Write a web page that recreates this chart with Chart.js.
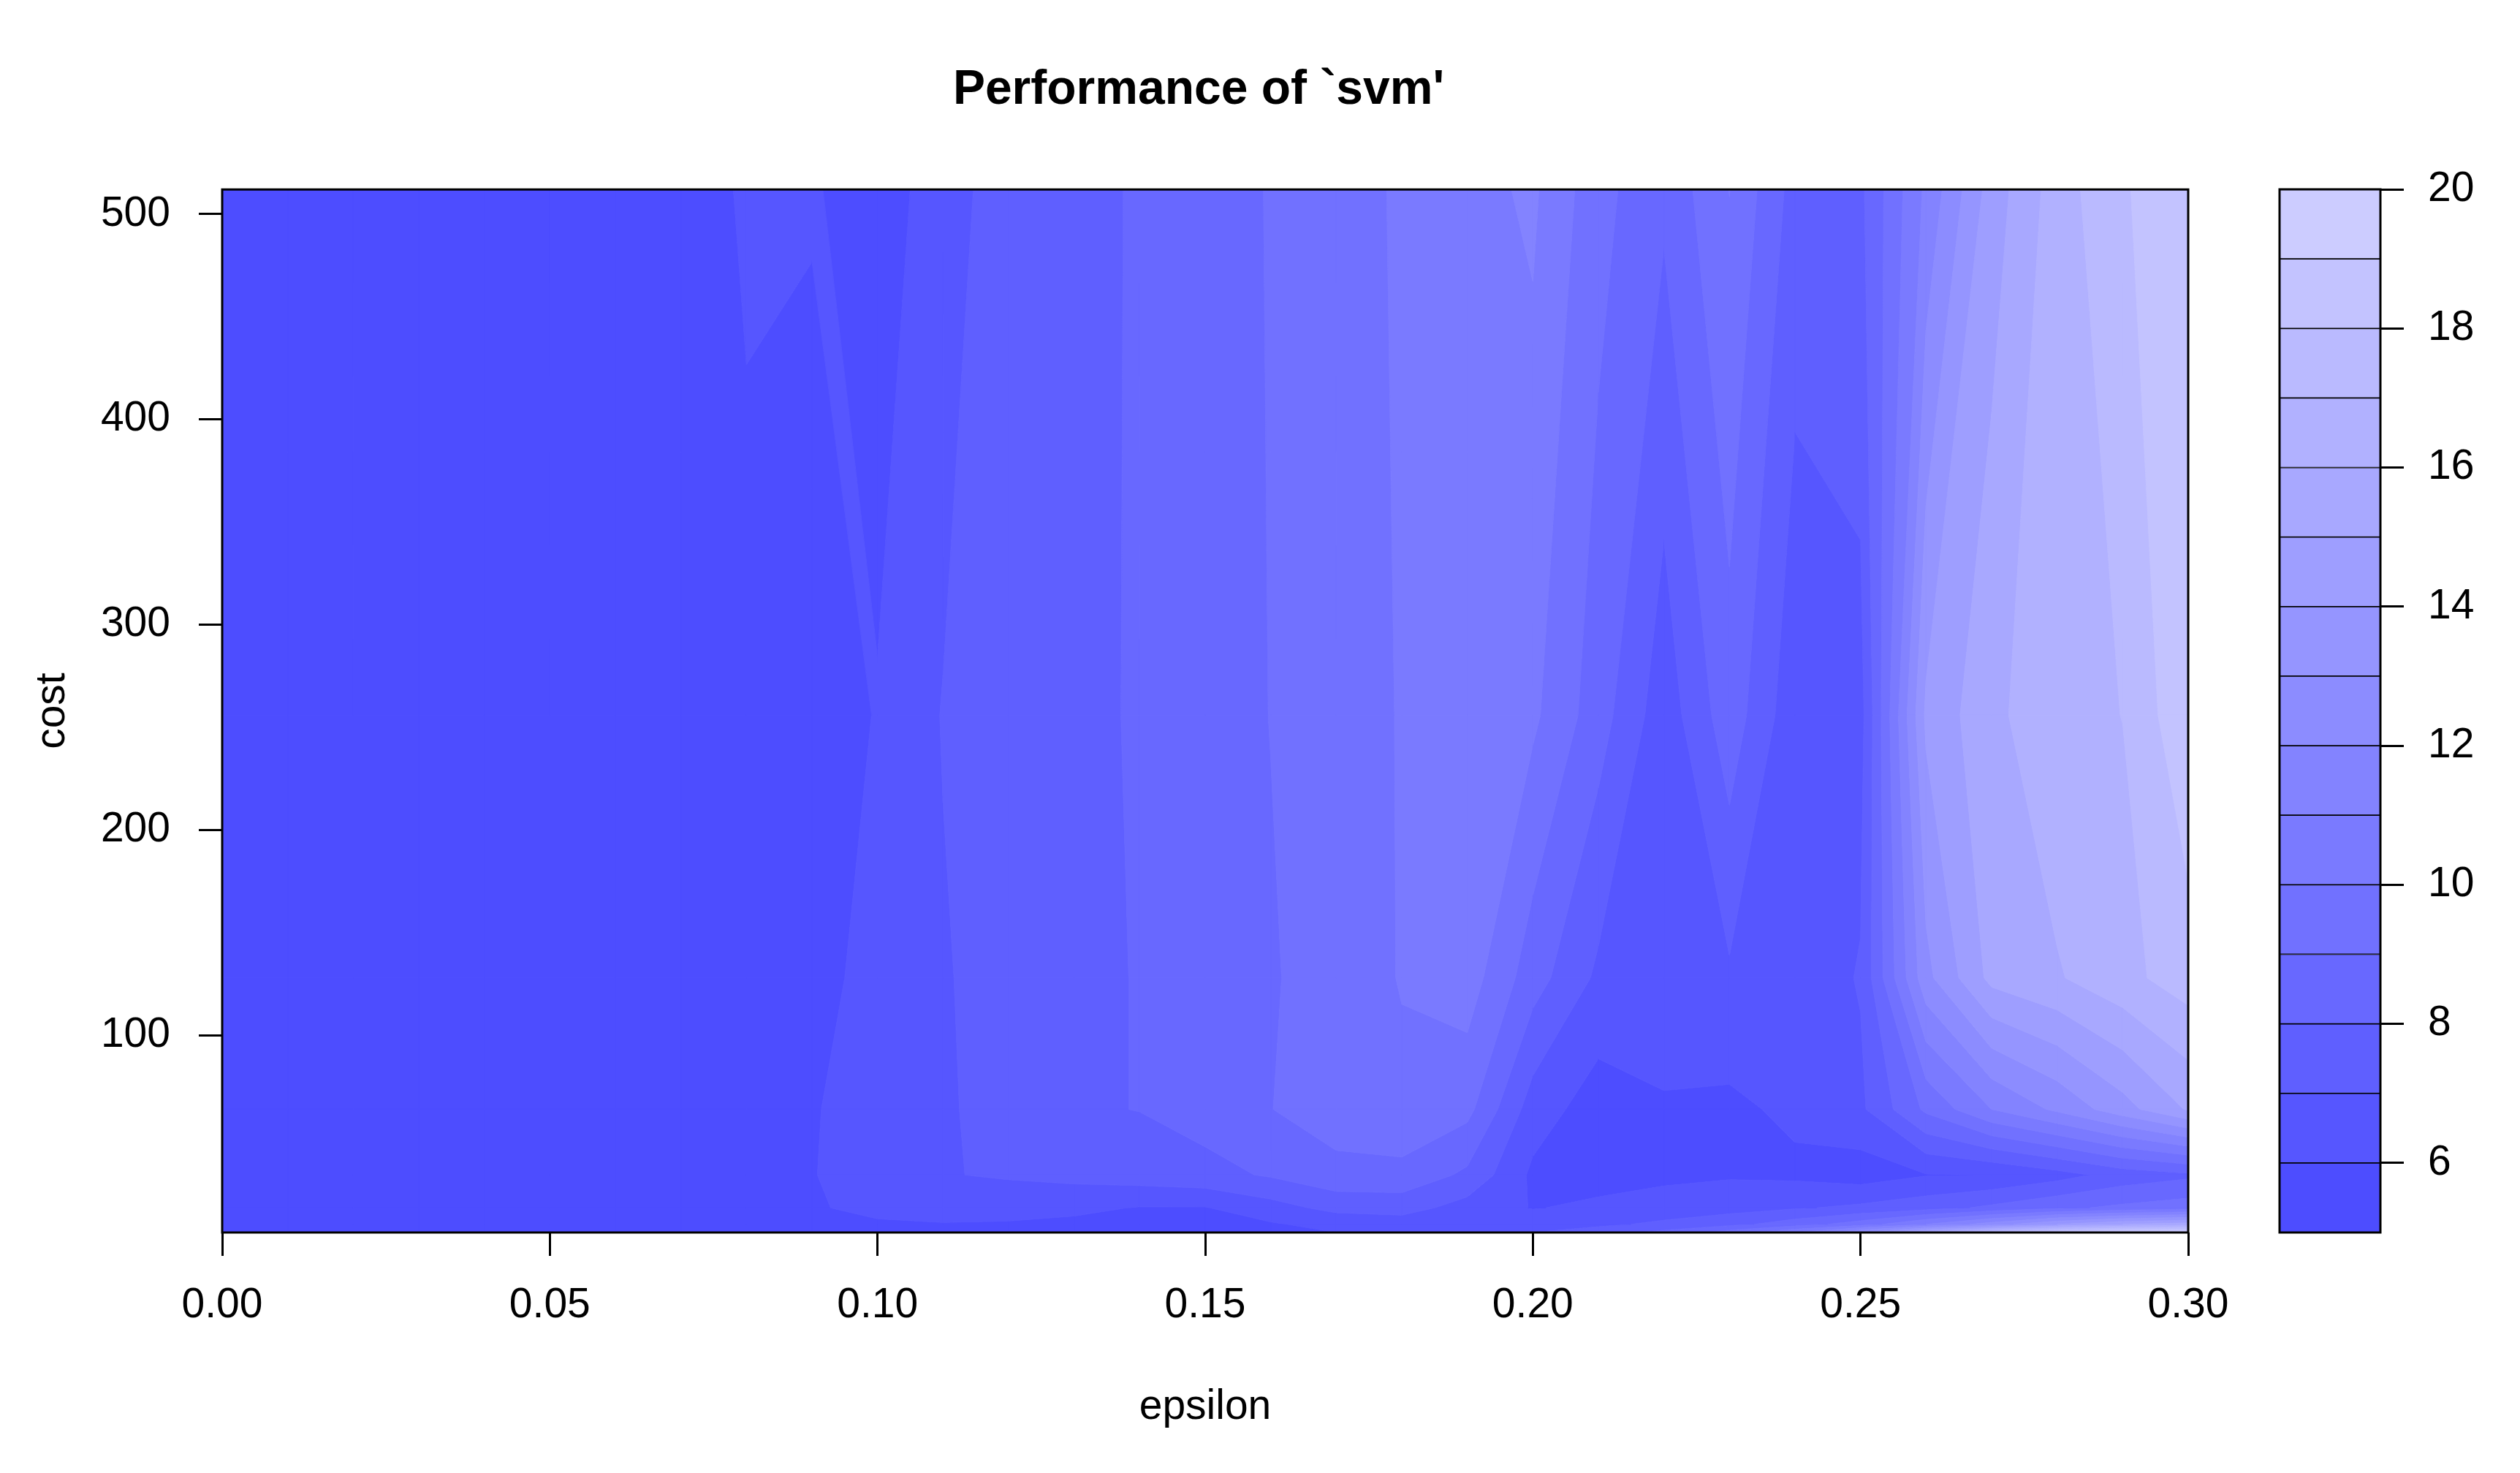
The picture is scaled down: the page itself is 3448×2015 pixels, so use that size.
<!DOCTYPE html>
<html><head><meta charset="utf-8">
<script src="https://cdn.jsdelivr.net/npm/chart.js@4.4.1/dist/chart.umd.min.js"></script>
<style>
html,body{margin:0;padding:0;background:#fff;overflow:hidden;width:3448px;height:2015px;}
#main{position:absolute;left:0;top:0;}
#bar{position:absolute;left:3000px;top:0;}
</style></head><body>
<canvas id="main" width="3280" height="2015" style="width:3280px;height:2015px"></canvas>
<canvas id="bar" width="448" height="2015" style="width:448px;height:2015px"></canvas>
<script>
// ---------- data ----------
const epsilon = [0.00,0.01,0.02,0.03,0.04,0.05,0.06,0.07,0.08,0.09,0.10,0.11,0.12,0.13,0.14,0.15,
                 0.16,0.17,0.18,0.19,0.20,0.21,0.22,0.23,0.24,0.25,0.26,0.27,0.28,0.29,0.30];
const cost = [4, 8, 16, 32, 64, 128, 256, 512];

const perfCost4   = [5.45,5.43,5.41,5.43,5.42,5.45,5.47,5.50,5.52,5.50,5.60,5.70,5.60,5.60,5.50,5.50,5.70,6.00,6.10,6.10,7.00,7.50,8.30,9.50,11.00,13.00,15.50,17.50,18.80,19.50,19.80];
const perfCost8   = [5.46,5.43,5.42,5.44,5.43,5.46,5.48,5.52,5.55,5.70,5.90,5.95,5.90,5.80,5.60,5.60,5.90,6.30,6.50,6.20,6.50,6.80,7.20,7.70,8.50,9.50,11.00,12.50,14.00,15.00,15.50];
const perfCost16  = [5.47,5.44,5.42,5.45,5.44,5.47,5.50,5.54,5.58,5.92,6.20,6.40,6.40,6.20,5.95,5.95,6.60,7.30,7.40,6.60,5.95,6.20,6.40,6.60,6.90,7.20,7.60,8.20,8.80,9.20,9.50];
const perfCost32  = [5.48,5.44,5.43,5.46,5.44,5.48,5.51,5.55,5.60,5.95,6.55,6.95,7.10,7.30,7.50,7.70,8.10,8.70,8.70,7.80,5.80,5.60,5.80,5.90,5.80,5.50,5.95,6.02,6.60,7.40,7.80];
const perfCost64  = [5.49,5.45,5.43,5.46,5.45,5.49,5.52,5.56,5.60,5.90,6.60,6.90,7.30,7.90,8.02,8.40,8.98,9.50,9.80,9.30,6.50,5.50,5.95,5.80,6.20,6.80,9.20,11.00,12.20,13.60,15.10];
const perfCost128 = [5.49,5.45,5.43,5.47,5.45,5.50,5.53,5.58,5.62,5.70,6.30,6.90,7.50,7.90,8.02,8.40,8.90,9.50,10.05,10.50,8.45,6.80,6.30,6.85,6.40,7.07,12.70,15.30,15.90,16.70,17.50];
const perfCost256 = [5.50,5.46,5.44,5.48,5.46,5.52,5.56,5.62,5.80,5.50,6.05,7.05,7.50,7.90,8.04,8.50,9.02,9.60,10.05,10.30,10.20,8.46,6.40,8.60,6.30,6.60,14.20,15.74,16.74,17.01,18.84];
const perfCost512 = [5.52,5.48,5.45,5.50,5.47,5.55,5.58,5.60,6.10,6.08,5.60,6.40,7.70,7.85,8.05,8.60,9.05,9.90,10.03,10.65,11.17,9.34,8.20,10.02,7.60,7.80,11.20,14.45,16.50,17.90,18.70];
const perfRows = [perfCost4, perfCost8, perfCost16, perfCost32, perfCost64, perfCost128, perfCost256, perfCost512];

const levels = [5,6,7,8,9,10,11,12,13,14,15,16,17,18,19,20];
const xTickValues = [0.00,0.05,0.10,0.15,0.20,0.25,0.30];
const yTickValues = [100,200,300,400,500];
const barTickValues = [6,8,10,12,14,16,18,20];

// hsv(h=2/3, s from 0.7 to 0.2, v=1)
const nBands = levels.length - 1;
const bandColors = [];
for (let k = 0; k < nBands; k++) {
  const s = 0.7 - k * (0.5 / (nBands - 1));
  const g = Math.round(255 * (1 - s) + 1e-9);
  bandColors.push('rgb(' + g + ',' + g + ',255)');
}

const FONT = "'Liberation Sans', Arial, Helvetica, sans-serif";
Chart.defaults.font.family = FONT;
Chart.defaults.color = '#000';

// polygon of a level band inside one grid cell (edge walk as in R's filled.contour)
function bandPoly(P, Z, lo, hi, last) {
  const pts = [];
  for (let e = 0; e < 4; e++) {
    const a = e, b = (e + 1) % 4;
    const za = Z[a], zb = Z[b];
    const inA = za >= lo && (last ? za <= hi : za < hi);
    if (inA) pts.push(P[a]);
    const ts = [];
    [lo, hi].forEach(function (lev) {
      if ((za < lev) !== (zb < lev)) ts.push((lev - za) / (zb - za));
    });
    ts.sort(function (p, q) { return p - q; });
    ts.forEach(function (t) {
      pts.push([P[a][0] + t * (P[b][0] - P[a][0]), P[a][1] + t * (P[b][1] - P[a][1])]);
    });
  }
  return pts;
}
// values sitting exactly on a contour level are nudged a hair upward for the polygon walk
function nudge(z) { return levels.indexOf(z) >= 0 && z < levels[levels.length - 1] ? z + 1e-6 : z; }

const contourPlugin = {
  id: 'filledContour',
  beforeDatasetsDraw(chart) {
    const ctx = chart.ctx, a = chart.chartArea, xs = chart.scales.x, ys = chart.scales.y;
    ctx.save();
    ctx.beginPath(); ctx.rect(a.left, a.top, a.right - a.left, a.bottom - a.top); ctx.clip();
    ctx.lineWidth = 1; ctx.lineJoin = 'round';
    for (let j = 0; j < cost.length - 1; j++) {
      for (let i = 0; i < epsilon.length - 1; i++) {
        const x0 = xs.getPixelForValue(epsilon[i]), x1 = xs.getPixelForValue(epsilon[i + 1]);
        const y0 = ys.getPixelForValue(cost[j]), y1 = ys.getPixelForValue(cost[j + 1]);
        const P = [[x0, y0], [x1, y0], [x1, y1], [x0, y1]];
        const Z = [perfRows[j][i], perfRows[j][i + 1], perfRows[j + 1][i + 1], perfRows[j + 1][i]].map(nudge);
        for (let k = 0; k < nBands; k++) {
          const pts = bandPoly(P, Z, levels[k], levels[k + 1], k === nBands - 1);
          if (pts.length < 3) continue;
          ctx.beginPath();
          ctx.moveTo(pts[0][0], pts[0][1]);
          for (let m = 1; m < pts.length; m++) ctx.lineTo(pts[m][0], pts[m][1]);
          ctx.closePath();
          ctx.fillStyle = bandColors[k]; ctx.fill();
          ctx.strokeStyle = bandColors[k]; ctx.stroke();
        }
      }
    }
    ctx.restore();
  },
  afterDatasetsDraw(chart) {
    const ctx = chart.ctx, a = chart.chartArea;
    ctx.save();
    ctx.strokeStyle = '#000'; ctx.lineWidth = 3;
    ctx.strokeRect(a.left, a.top, a.right - a.left, a.bottom - a.top);
    ctx.restore();
  }
};

const framePlugin = {
  id: 'barFrame',
  afterDatasetsDraw(chart) {
    const ctx = chart.ctx, a = chart.chartArea;
    ctx.save();
    ctx.strokeStyle = '#000'; ctx.lineWidth = 3;
    ctx.strokeRect(a.left, a.top, a.right - a.left, a.bottom - a.top);
    ctx.restore();
  }
};

const gridPoints = [];
cost.forEach(function (c) { epsilon.forEach(function (e) { gridPoints.push({x: e, y: c}); }); });

const tickGrid = { display: true, drawOnChartArea: false, drawTicks: true, tickLength: 32, tickWidth: 3, tickColor: '#000' };

new Chart(document.getElementById('main').getContext('2d'), {
  type: 'scatter',
  data: { datasets: [{ data: gridPoints, pointRadius: 0, pointHoverRadius: 0, showLine: false }] },
  options: {
    responsive: false, animation: false, devicePixelRatio: 1,
    layout: { padding: 0 },
    plugins: {
      legend: { display: false }, tooltip: { enabled: false },
      title: { display: true, text: "Performance of `svm'", color: '#000',
               font: { family: FONT, size: 66, weight: 'bold' }, padding: { top: 84, bottom: 96 } }
    },
    scales: {
      x: {
        type: 'linear', position: 'bottom', min: 0, max: 0.3,
        afterBuildTicks: function (s) { s.ticks = xTickValues.map(function (v) { return {value: v}; }); },
        afterFit: function (s) { s.height = 329; },
        ticks: { font: { size: 57 }, padding: 34, autoSkip: false, maxRotation: 0, minRotation: 0,
                 callback: function (v) { return Number(v).toFixed(2); } },
        grid: tickGrid, border: { display: false },
        title: { display: true, text: 'epsilon', font: { size: 57 }, padding: { top: 0, bottom: 56 } }
      },
      y: {
        type: 'linear', position: 'left', min: 4, max: 512,
        afterBuildTicks: function (s) { s.ticks = yTickValues.map(function (v) { return {value: v}; }); },
        afterFit: function (s) { s.width = 304; },
        ticks: { font: { size: 57 }, padding: 39, autoSkip: false, callback: function (v) { return String(v); } },
        grid: tickGrid, border: { display: false },
        title: { display: true, text: 'cost', font: { size: 57 }, padding: { top: 38, bottom: 0 } }
      },
      yRight: {
        type: 'linear', position: 'right', display: true,
        afterFit: function (s) { s.width = 286; },
        ticks: { display: false }, grid: { display: false }, border: { display: false }
      }
    }
  },
  plugins: [contourPlugin]
});

new Chart(document.getElementById('bar').getContext('2d'), {
  type: 'bar',
  data: {
    labels: [''],
    datasets: bandColors.map(function (c, k) {
      return { data: [[levels[k], levels[k + 1]]], backgroundColor: c, borderColor: '#000',
               borderWidth: { top: 1.2, bottom: 1.2, left: 0, right: 0 }, borderSkipped: false,
               grouped: false, barPercentage: 1, categoryPercentage: 1 };
    })
  },
  options: {
    responsive: false, animation: false, devicePixelRatio: 1,
    layout: { padding: { left: 119, top: 259, bottom: 329, right: 0 } },
    plugins: { legend: { display: false }, tooltip: { enabled: false }, title: { display: false } },
    scales: {
      x: { display: false },
      y: {
        type: 'linear', position: 'right', min: 5, max: 20,
        afterBuildTicks: function (s) { s.ticks = barTickValues.map(function (v) { return {value: v}; }); },
        afterFit: function (s) { s.width = 191; },
        ticks: { font: { size: 57 }, padding: 33, autoSkip: false },
        grid: tickGrid, border: { display: false }
      }
    }
  },
  plugins: [framePlugin]
});
</script>
</body></html>
